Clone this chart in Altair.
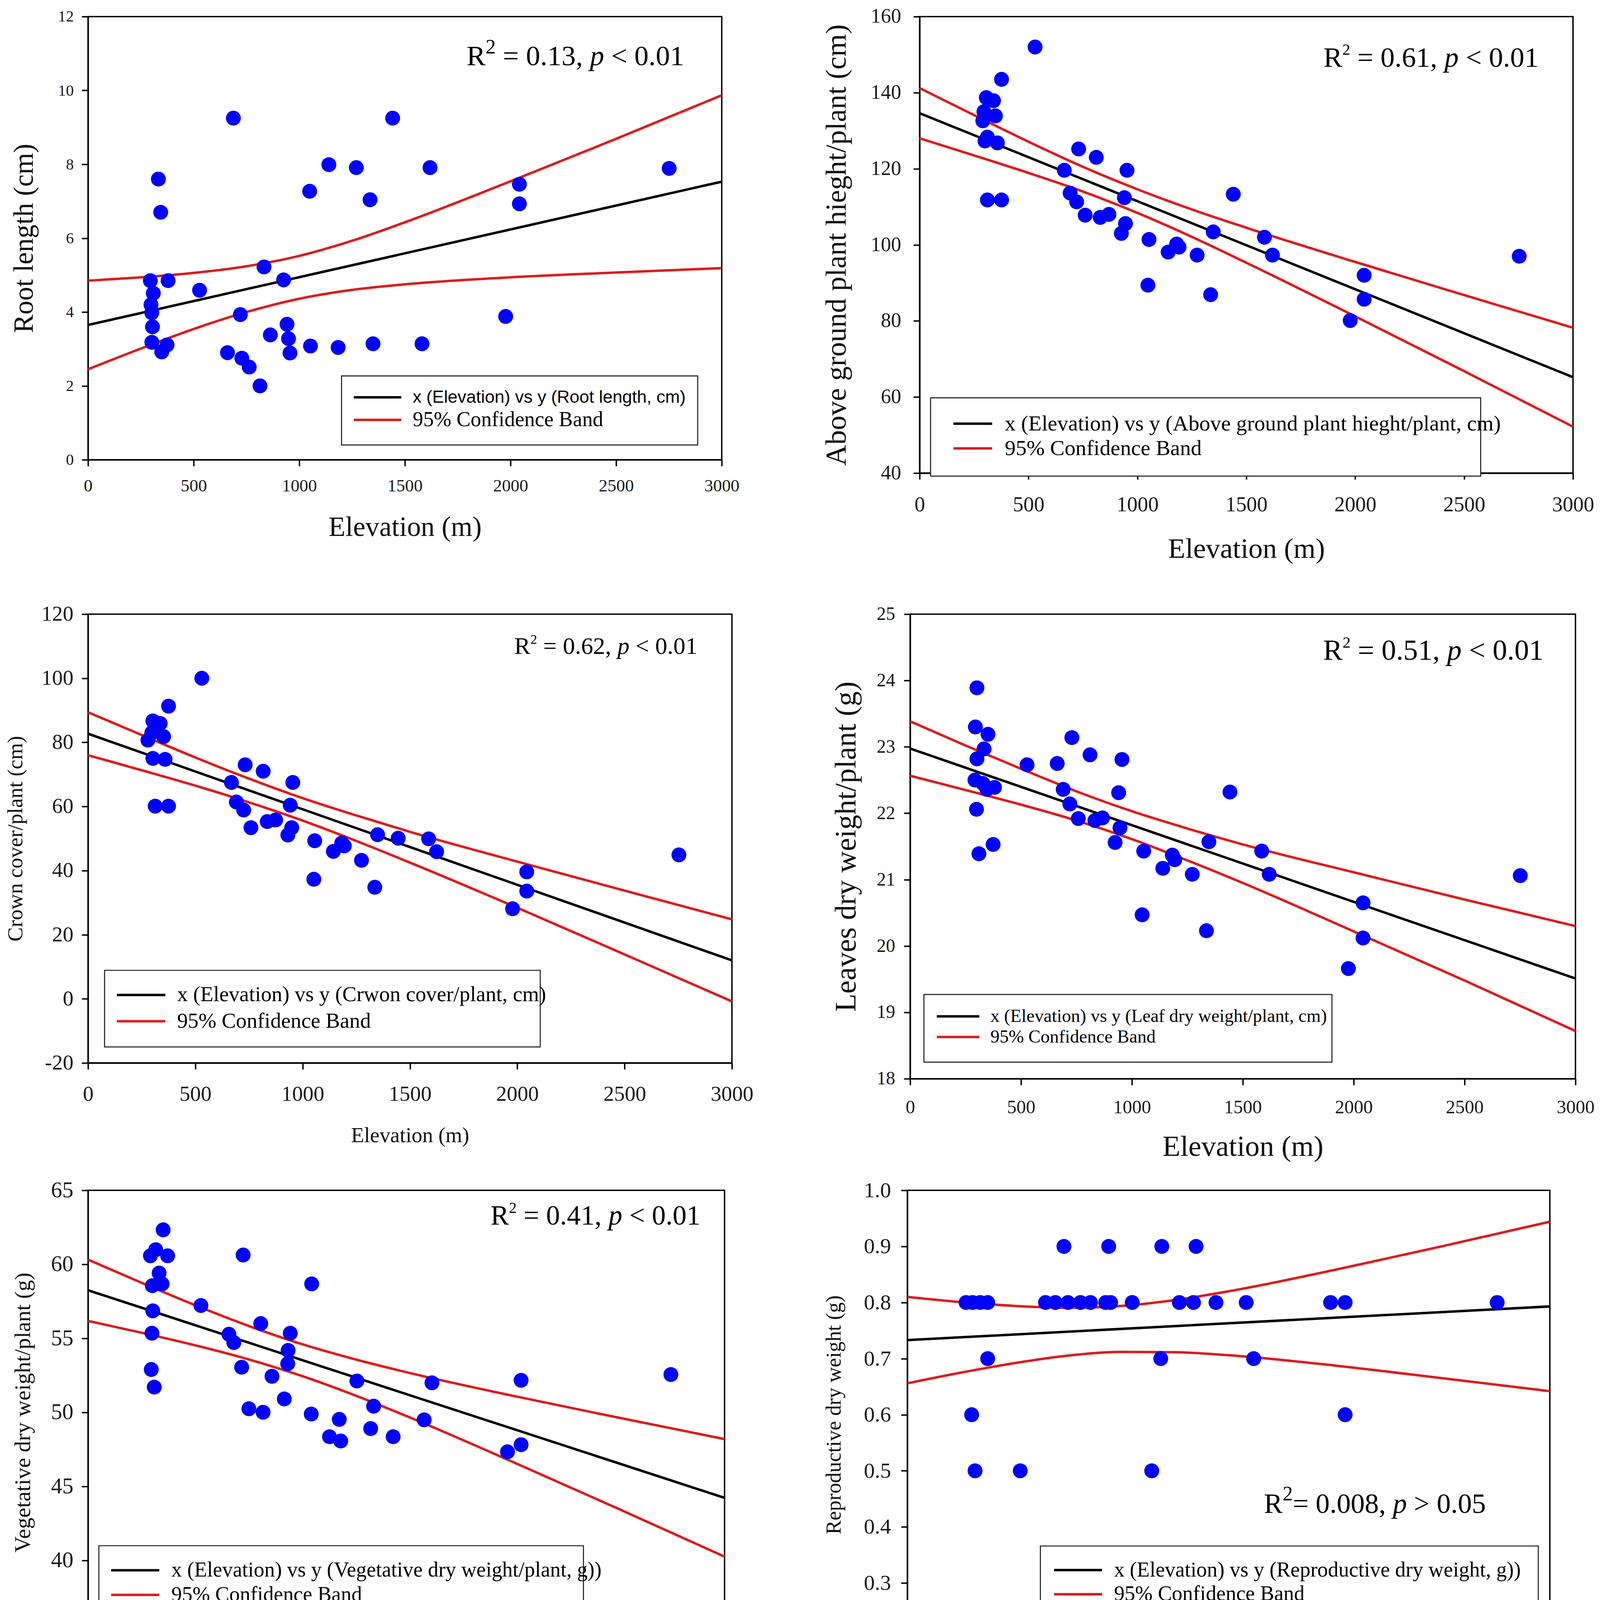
import altair as alt
import pandas as pd

SERIF = "Liberation Serif"
SANS = "Liberation Sans"
BLUE = "#0000ff"
RED = "#dd1c1c"

grid_x = [0, 250, 500, 750, 1000, 1250, 1500, 2000, 2500, 3000]
line_x = [0, 3000]
x_ticks = [0, 500, 1000, 1500, 2000, 2500, 3000]

# ---------------- Panel 1: Root length ----------------
p1_x = [295, 309, 298, 302, 305, 302, 333, 344, 379, 349, 374, 528, 688, 660, 721, 728, 763, 814, 833,
        863, 926, 942, 949, 956, 1049, 1053, 1140, 1184, 1270, 1335, 1349, 1442, 1581, 1619, 1977,
        2042, 2042, 2751]
p1_y = [4.85, 4.51, 4.2, 3.98, 3.6, 3.18, 7.6, 6.7, 4.85, 2.92, 3.11, 4.59, 9.25, 2.9, 3.93, 2.75, 2.51,
        2.0, 5.22, 3.38, 4.87, 3.67, 3.28, 2.89, 7.27, 3.08, 7.99, 3.04, 7.91, 7.04, 3.14, 9.25, 3.14,
        7.91, 3.88, 7.46, 6.93, 7.89]
p1_line = [3.65, 7.53]
p1_up = [4.85, 4.94, 5.06, 5.24, 5.52, 5.93, 6.43, 7.54, 8.69, 9.87]
p1_lo = [2.45, 3.01, 3.54, 4.00, 4.36, 4.60, 4.75, 4.94, 5.07, 5.19]

# ---------------- Panel 2: Above ground plant height ----------------
p2_x = [530, 376, 306, 339, 295, 348, 290, 300, 311, 357, 311, 376, 664, 730, 811, 952, 691, 721, 760,
        829, 869, 940, 945, 926, 1053, 1048, 1141, 1180, 1191, 1274, 1348, 1336, 1440, 1583, 1620,
        1977, 2041, 2041, 2753]
p2_y = [152.0, 143.5, 138.7, 137.9, 135.0, 133.9, 132.6, 127.3, 128.3, 126.8, 111.8, 111.8, 119.6,
        125.2, 123.0, 119.6, 113.6, 111.3, 107.8, 107.2, 108.0, 112.4, 105.6, 103.0, 101.4, 89.4, 98.1,
        100.2, 99.4, 97.3, 103.4, 86.9, 113.3, 102.0, 97.3, 80.1, 92.0, 85.7, 97.0]
p2_line = [134.6, 65.2]
p2_up = [141.2, 134.1, 127.1, 120.5, 114.6, 109.3, 104.5, 95.5, 86.8, 78.2]
p2_lo = [128.0, 123.5, 118.9, 114.0, 108.4, 102.1, 95.3, 81.2, 66.8, 52.2]

# ---------------- Panel 3: Crown cover ----------------
p3_x = [530, 375, 302, 336, 297, 279, 352, 302, 359, 313, 375, 668, 732, 816, 954, 691, 725, 759, 835,
        874, 942, 949, 931, 1056, 1052, 1143, 1182, 1194, 1274, 1349, 1336, 1445, 1587, 1624, 1978,
        2044, 2044, 2753]
p3_y = [100.0, 91.3, 86.7, 85.9, 83.0, 80.7, 81.8, 75.0, 74.7, 60.1, 60.1, 67.5, 73.0, 71.0, 67.5, 61.4,
        58.9, 53.4, 55.3, 55.8, 60.4, 53.4, 51.1, 49.3, 37.3, 46.0, 48.6, 47.7, 43.2, 51.2, 34.8, 50.1,
        49.9, 45.9, 28.1, 39.6, 33.6, 44.9]
p3_line = [82.7, 12.0]
p3_up = [89.4, 82.3, 75.3, 68.7, 62.6, 57.2, 52.1, 42.8, 33.75, 24.8]
p3_lo = [76.0, 71.3, 66.5, 61.3, 55.6, 49.25, 42.5, 28.4, 13.85, -0.8]

# ---------------- Panel 4: Leaves dry weight ----------------
p4_x = [301, 294, 351, 333, 301, 292, 328, 346, 380, 299, 310, 374, 527, 663, 729, 811, 955, 690, 720,
        758, 833, 867, 940, 946, 924, 1053, 1046, 1139, 1182, 1193, 1272, 1347, 1336, 1442, 1585, 1619,
        1976, 2042, 2042, 2751]
p4_y = [23.89, 23.30, 23.19, 22.97, 22.82, 22.50, 22.45, 22.36, 22.39, 22.06, 21.39, 21.53, 22.73, 22.75,
        23.14, 22.88, 22.81, 22.36, 22.14, 21.92, 21.89, 21.93, 22.31, 21.78, 21.56, 21.43, 20.47, 21.17,
        21.37, 21.30, 21.08, 21.57, 20.23, 22.32, 21.43, 21.08, 19.66, 20.65, 20.12, 21.06]
p4_line = [22.975, 19.51]
p4_up = [23.385, 23.02, 22.67, 22.33, 22.03, 21.77, 21.53, 21.11, 20.70, 20.30]
p4_lo = [22.565, 22.35, 22.13, 21.89, 21.61, 21.29, 20.95, 20.22, 19.48, 18.72]

# ---------------- Panel 5: Vegetative dry weight ----------------
p5_x = [354, 294, 319, 375, 335, 303, 349, 305, 301, 298, 312, 532, 731, 664, 687, 724, 814, 953, 943,
        941, 867, 758, 825, 925, 1054, 1052, 1138, 1184, 1191, 1267, 1346, 1332, 1438, 1584, 1621,
        1977, 2041, 2041, 2747]
p5_y = [62.33, 60.58, 60.99, 60.58, 59.41, 58.56, 58.68, 56.86, 55.35, 52.90, 51.71, 57.22, 60.63, 55.28,
        54.72, 53.05, 56.0, 55.35, 54.19, 53.29, 52.44, 50.25, 50.01, 50.91, 58.68, 49.89, 48.36, 49.53,
        48.07, 52.12, 50.42, 48.91, 48.36, 49.50, 52.0, 47.34, 47.82, 52.17, 52.56]
p5_line = [58.25, 44.23]
p5_up = [60.32, 58.77, 57.27, 55.88, 54.65, 53.62, 52.72, 51.13, 49.65, 48.20]
p5_lo = [56.18, 55.39, 54.55, 53.61, 52.50, 51.20, 49.76, 46.67, 43.49, 40.26]

# ---------------- Panel 6: Reproductive dry weight ----------------
p6_x = [731, 940, 1188, 1348, 274, 305, 340, 375, 645, 691, 750, 808, 855, 926, 949, 1050, 1270, 1336,
        1441, 1582, 1976, 2044, 2754, 375, 1183, 1617, 300, 2044, 316, 527, 1141]
p6_y = [0.9, 0.9, 0.9, 0.9, 0.8, 0.8, 0.8, 0.8, 0.8, 0.8, 0.8, 0.8, 0.8, 0.8, 0.8, 0.8, 0.8, 0.8,
        0.8, 0.8, 0.8, 0.8, 0.8, 0.7, 0.7, 0.7, 0.6, 0.6, 0.5, 0.5, 0.5]
p6_line = [0.733, 0.793]
p6_up = [0.810, 0.8008, 0.794, 0.7906, 0.794, 0.8044, 0.820, 0.8585, 0.9006, 0.944]
p6_lo = [0.656, 0.675, 0.692, 0.7054, 0.712, 0.7114, 0.706, 0.6875, 0.665, 0.642]

# Times-like glyph widths (em) for composing the annotation pieces
TW = {" ": 0.25, "=": 0.564, "<": 0.564, ">": 0.564, ".": 0.25, ",": 0.25, "R": 0.667, "p": 0.5}


def tw(s, f):
    return sum(TW.get(c, 0.5) for c in s) * f


def panel(P):
    xs = alt.Scale(domain=[0, 3000], nice=False, zero=False)
    ys = alt.Scale(domain=P["ydom"], nice=False, zero=False)
    xaxis = alt.Axis(title="Elevation (m)", values=x_ticks, format="d",
                     labelFontSize=P["xlab"], titleFontSize=P["xtitle"],
                     labelPadding=P["xlp"], titlePadding=P["xtp"], tickSize=18,
                     labelFlush=False, labelOverlap=False)
    ykw = dict(title=P["ytitle"], values=P["yvals"],
               labelFontSize=P["ylab"], titleFontSize=P["ytfs"],
               labelPadding=P["ylp"], titlePadding=P["ytp"], tickSize=18,
               labelFlush=False, labelOverlap=False)
    if P["yfmt"] == "plain":
        ykw["labelExpr"] = "'' + datum.value"
    else:
        ykw["format"] = P["yfmt"]
    yaxis = alt.Axis(**ykw)
    X = alt.X("x:Q", scale=xs, axis=xaxis)
    Y = alt.Y("y:Q", scale=ys, axis=yaxis)

    df_pts = pd.DataFrame({"x": P["px"], "y": P["py"]})
    df_line = pd.DataFrame({"x": line_x, "y": P["line"]})
    df_band = pd.DataFrame({"x": grid_x + grid_x, "y": P["up"] + P["lo"],
                            "k": ["up"] * len(grid_x) + ["lo"] * len(grid_x)})

    band = alt.Chart(df_band).mark_line(color=RED, strokeWidth=7, interpolate="monotone").encode(
        x=X, y=Y, detail="k:N")
    reg = alt.Chart(df_line).mark_line(color="black", strokeWidth=7).encode(x=X, y=Y)
    pts = alt.Chart(df_pts).mark_circle(size=1800, color=BLUE, opacity=1).encode(x=X, y=Y)

    L = P["leg"]
    box = alt.Chart(pd.DataFrame({"x": [L["box"][0]], "x2": [L["box"][1]],
                                  "y": [L["box"][2]], "y2": [L["box"][3]]})).mark_rect(
        fill="white", stroke="#222222", strokeWidth=3).encode(x=X, x2="x2:Q", y=Y, y2="y2:Q")
    lines = alt.Chart(pd.DataFrame({"x": [L["lx"][0], L["lx"][0]], "x2": [L["lx"][1], L["lx"][1]],
                                    "y": [L["ly"][0], L["ly"][1]], "c": ["black", RED]})).mark_rule(
        strokeWidth=7).encode(x=X, x2="x2:Q", y=Y, color=alt.Color("c:N", scale=None))
    t1 = alt.Chart(pd.DataFrame({"x": [L["tx"]], "y": [L["ly"][0]], "t": [L["t1"]]})).mark_text(
        align="left", baseline="middle", font=L.get("font1", SERIF), fontSize=L["f1"], color="black"
    ).encode(x=X, y=Y, text="t:N")
    t2 = alt.Chart(pd.DataFrame({"x": [L["tx"]], "y": [L["ly"][1]], "t": ["95% Confidence Band"]})).mark_text(
        align="left", baseline="middle", font=SERIF, fontSize=L["f2"], color="black"
    ).encode(x=X, y=Y, text="t:N")

    A = P["ann"]
    f = A["f"]
    sf = A["sup"] * f
    pieces = [("R", f, "normal", 0.0),
              ("2", sf, "normal", -A["rz"] * f),
              (A["eq"], f, "normal", 0.0),
              ("p", f, "italic", 0.0),
              (A["rest"], f, "normal", 0.0)]
    ann_layers = []
    dx = 0.0
    adf = pd.DataFrame({"x": [A["x"]], "y": [A["y"]]})
    for txt, size, style, dy in pieces:
        core = txt.strip()
        lead = len(txt) - len(txt.lstrip())
        trail = len(txt) - len(txt.rstrip())
        dx += lead * 0.25 * size
        ann_layers.append(alt.Chart(adf).mark_text(
            text=core, align="left", baseline="alphabetic", dx=dx, dy=dy, font=SERIF,
            fontSize=size, fontStyle=style, color="black").encode(x=X, y=Y))
        dx += tw(core, size) + trail * 0.25 * size

    return alt.layer(band, reg, pts, box, lines, t1, t2, *ann_layers).properties(
        width=P["W"], height=P["H"])


P1 = dict(px=p1_x, py=p1_y, line=p1_line, up=p1_up, lo=p1_lo, W=1806, H=1263,
          ydom=[0, 12], yvals=[0, 2, 4, 6, 8, 10, 12], yfmt="d", ytitle="Root length (cm)",
          xlab=50, ylab=45, xtitle=79, ytfs=79, xlp=32, xtp=55, ylp=23, ytp=55,
          leg=dict(box=[1200, 2886, 0.40, 2.27], lx=[1258, 1483], ly=[1.69, 1.08], tx=1537,
                   t1="x (Elevation) vs y (Root length, cm)", font1=SANS, f1=50, f2=60),
          ann=dict(x=1792, y=10.68, f=81, sup=0.72, rz=0.42, eq=" = 0.13, ", rest=" < 0.01"))
P2 = dict(px=p2_x, py=p2_y, line=p2_line, up=p2_up, lo=p2_lo, W=1862, H=1301,
          ydom=[40, 160], yvals=[40, 60, 80, 100, 120, 140, 160], yfmt="d",
          ytitle="Above ground plant hieght/plant (cm)",
          xlab=60, ylab=58, xtitle=81, ytfs=83, xlp=43, xtp=57, ylp=35, ytp=54,
          leg=dict(box=[50, 2576, 39.2, 59.8], lx=[155, 333], ly=[53.0, 46.5], tx=391,
                   t1="x (Elevation) vs y (Above ground plant hieght/plant, cm)", f1=62, f2=62),
          ann=dict(x=1854, y=146.8, f=81, sup=0.55, rz=0.42, eq=" = 0.61, ", rest=" < 0.01"))
P3 = dict(px=p3_x, py=p3_y, line=p3_line, up=p3_up, lo=p3_lo, W=1835, H=1279,
          ydom=[-20, 120], yvals=[-20, 0, 20, 40, 60, 80, 100, 120], yfmt="plain",
          ytitle="Crown cover/plant (cm)",
          xlab=61, ylab=61, xtitle=61, ytfs=61, xlp=41, xtp=58, ylp=24, ytp=42,
          leg=dict(box=[77, 2107, -15.0, 8.9], lx=[134, 360], ly=[1.2, -7.0], tx=415,
                   t1="x (Elevation) vs y (Crwon cover/plant, cm)", f1=61, f2=61),
          ann=dict(x=1986, y=107.6, f=69, sup=0.55, rz=0.42, eq=" = 0.62, ", rest=" < 0.01"))
P4 = dict(px=p4_x, py=p4_y, line=p4_line, up=p4_up, lo=p4_lo, W=1896, H=1324,
          ydom=[18, 25], yvals=[18, 19, 20, 21, 22, 23, 24, 25], yfmt="d",
          ytitle="Leaves dry weight/plant (g)",
          xlab=54, ylab=53, xtitle=83, ytfs=85, xlp=37, xtp=44, ylp=25, ytp=42,
          leg=dict(box=[62, 1902, 18.25, 19.27], lx=[120, 312], ly=[18.94, 18.63], tx=362,
                   t1="x (Elevation) vs y (Leaf dry weight/plant, cm)", f1=52, f2=52),
          ann=dict(x=1862, y=24.31, f=83, sup=0.55, rz=0.42, eq=" = 0.51, ", rest=" < 0.01"))
P5 = dict(px=p5_x, py=p5_y, line=p5_line, up=p5_up, lo=p5_lo, W=1814, H=1266,
          ydom=[35, 65], yvals=[35, 40, 45, 50, 55, 60, 65], yfmt="d",
          ytitle="Vegetative dry weight/plant (g)",
          xlab=59, ylab=64, xtitle=60, ytfs=64, xlp=42, xtp=54, ylp=24, ytp=47,
          leg=dict(box=[51, 2335, 35.9, 41.0], lx=[109, 336], ly=[39.34, 37.68], tx=393,
                   t1="x (Elevation) vs y (Vegetative dry weight/plant, g))", f1=60, f2=60),
          ann=dict(x=1897, y=62.68, f=79, sup=0.55, rz=0.42, eq=" = 0.41, ", rest=" < 0.01"))
P6 = dict(px=p6_x, py=p6_y, line=p6_line, up=p6_up, lo=p6_lo, W=1831, H=1279,
          ydom=[0.2, 1.0], yvals=[0.2, 0.3, 0.4, 0.5, 0.6, 0.7, 0.8, 0.9, 1.0], yfmt=".1f",
          ytitle="Reproductive dry weight (g)",
          xlab=61, ylab=62, xtitle=60, ytfs=60, xlp=41, xtp=54, ylp=29, ytp=53,
          leg=dict(box=[621, 2946, 0.232, 0.366], lx=[685, 909], ly=[0.323, 0.280], tx=965,
                   t1="x (Elevation) vs y (Reproductive dry weight, g))", f1=60, f2=60),
          ann=dict(x=1665, y=0.425, f=80, sup=0.72, rz=0.45, eq="= 0.008, ", rest=" > 0.05"))

row1 = alt.hconcat(panel(P1), panel(P2), spacing=233)
row2 = alt.hconcat(panel(P3), panel(P4), spacing=219)
row3 = alt.hconcat(panel(P5), panel(P6), spacing=219)

chart = alt.vconcat(row1, alt.vconcat(row2, row3, spacing=46), spacing=110).properties(
    padding={"left": 2, "top": -255, "right": 5, "bottom": 0},
    background="white"
).configure_view(stroke="black", strokeWidth=4).configure_axis(
    domainColor="black", domainWidth=4, tickColor="black", tickWidth=4, grid=False,
    labelFont=SERIF, titleFont=SERIF, titleFontWeight="normal",
    labelColor="#1a1a1a", titleColor="#111111"
)

chart.save("out.html", embed_options={"renderer": "svg", "actions": False})
